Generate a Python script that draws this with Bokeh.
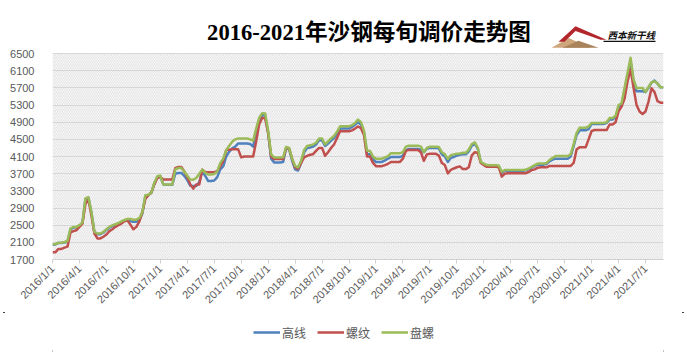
import math
from bokeh.plotting import figure
from bokeh.layouts import column
from bokeh.models import (Range1d, FixedTicker, Legend, LegendItem, BoxAnnotation,
                          PolyAnnotation, Label)
from bokeh.embed import file_html
from bokeh.resources import INLINE

# ---- data: ten-day (旬) periods 2016/1/1 .. 2021/9/1 ----
dates = [f"{y}/{m}/{d}" for y in range(2016, 2022) for m in range(1, 13) for d in (1, 11, 21)][:205]

gaoxian = [  # 高线
    2045, 2050, 2085, 2085, 2095, 2120, 2400, 2440, 2450, 2490,
    2550, 3110, 3140, 2790, 2330, 2290, 2290, 2330, 2390, 2440,
    2480, 2505, 2530, 2570, 2600, 2610, 2590, 2580, 2580, 2620,
    2770, 3180, 3200, 3255, 3470, 3620, 3640, 3450, 3440, 3440,
    3440, 3700, 3717, 3717, 3650, 3550, 3420, 3412, 3412, 3500,
    3756, 3650, 3527, 3527, 3540, 3620, 3800, 3870, 4100, 4213,
    4290, 4330, 4404, 4404, 4404, 4404, 4390, 4330, 4700, 4950,
    5070, 5050, 4650, 4050, 3963, 3963, 3963, 3970, 4290, 4270,
    4000, 3800, 3772, 3950, 4200, 4300, 4310, 4330, 4380, 4480,
    4480, 4345, 4400, 4470, 4530, 4630, 4750, 4750, 4750, 4750,
    4790, 4840, 4900, 4840, 4650, 4160, 4150, 4030, 3973, 3973,
    3973, 4010, 4050, 4087, 4087, 4087, 4087, 4120, 4250, 4277,
    4277, 4277, 4277, 4260, 4200, 4280, 4300, 4300, 4300, 4290,
    4150, 4100, 3973, 4070, 4090, 4120, 4140, 4150, 4150, 4220,
    4350, 4400, 4280, 3960, 3920, 3880, 3880, 3880, 3880, 3870,
    3720, 3770, 3770, 3770, 3770, 3770, 3770, 3770, 3780, 3800,
    3840, 3880, 3910, 3910, 3910, 3930, 3990, 4026, 4050, 4050,
    4050, 4050, 4050, 4100, 4340, 4600, 4709, 4709, 4709, 4740,
    4860, 4860, 4860, 4860, 4860, 4880, 4960, 4960, 5020, 5250,
    5300, 5650, 5980, 6320, 5850, 5620, 5620, 5620, 5604, 5700,
    5820, 5870, 5800, 5711, 5711,
]

luowen = [  # 螺纹
    1870, 1870, 1947, 1947, 1978, 2000, 2330, 2360, 2383, 2460,
    2536, 2995, 3095, 2727, 2306, 2192, 2192, 2230, 2283, 2360,
    2406, 2460, 2498, 2536, 2590, 2612, 2513, 2406, 2460, 2590,
    2804, 3110, 3200, 3260, 3450, 3600, 3620, 3565, 3565, 3565,
    3565, 3830, 3855, 3855, 3750, 3620, 3450, 3351, 3450, 3450,
    3794, 3740, 3733, 3733, 3733, 3760, 3870, 4000, 4250, 4260,
    4267, 4267, 4267, 4080, 4099, 4099, 4099, 4099, 4450, 4850,
    5000, 4990, 4650, 4100, 4040, 4040, 4040, 4040, 4300, 4290,
    4050, 3850, 3810, 3950, 4080, 4116, 4140, 4154, 4230, 4300,
    4300, 4116, 4200, 4300, 4380, 4530, 4689, 4689, 4689, 4689,
    4710, 4750, 4800, 4760, 4600, 4102, 4100, 3950, 3874, 3874,
    3874, 3900, 3930, 3973, 3973, 3973, 3973, 4050, 4230, 4254,
    4254, 4254, 4254, 4200, 4000, 4150, 4163, 4163, 4163, 4120,
    3950, 3900, 3707, 3790, 3821, 3850, 3870, 3806, 3806, 3850,
    4125, 4201, 4180, 3950, 3900, 3860, 3859, 3859, 3859, 3850,
    3631, 3700, 3707, 3707, 3707, 3707, 3707, 3707, 3710, 3740,
    3783, 3800, 3840, 3850, 3850, 3850, 3880, 3880, 3880, 3880,
    3880, 3880, 3880, 3880, 3950, 4270, 4314, 4314, 4314, 4500,
    4694, 4716, 4716, 4716, 4716, 4716, 4845, 4845, 4900, 5150,
    5263, 5450, 5850, 6136, 5700, 5300, 5150, 5090, 5150, 5380,
    5690, 5600, 5390, 5354, 5354,
]

panluo = [  # 盘螺
    2054, 2060, 2092, 2092, 2108, 2130, 2420, 2460, 2460, 2500,
    2560, 3125, 3150, 2800, 2345, 2306, 2306, 2345, 2406, 2460,
    2498, 2520, 2550, 2590, 2620, 2643, 2643, 2628, 2628, 2666,
    2804, 3200, 3207, 3260, 3490, 3640, 3656, 3450, 3450, 3450,
    3450, 3800, 3832, 3832, 3750, 3650, 3565, 3560, 3600, 3700,
    3794, 3720, 3680, 3680, 3690, 3750, 3946, 4050, 4250, 4350,
    4442, 4500, 4518, 4518, 4518, 4518, 4500, 4470, 4750, 5000,
    5110, 5100, 4700, 4150, 4078, 4078, 4078, 4080, 4322, 4300,
    4050, 3880, 3848, 4000, 4250, 4345, 4360, 4380, 4421, 4520,
    4520, 4383, 4450, 4520, 4580, 4680, 4803, 4803, 4803, 4803,
    4830, 4880, 4960, 4900, 4700, 4239, 4230, 4100, 4049, 4049,
    4049, 4080, 4110, 4178, 4178, 4178, 4178, 4200, 4330, 4353,
    4353, 4353, 4353, 4330, 4200, 4300, 4330, 4330, 4330, 4320,
    4200, 4150, 4049, 4130, 4150, 4163, 4170, 4186, 4186, 4262,
    4391, 4430, 4300, 3973, 3935, 3900, 3897, 3897, 3897, 3890,
    3745, 3783, 3783, 3783, 3783, 3783, 3783, 3783, 3790, 3820,
    3860, 3900, 3935, 3935, 3935, 3950, 4020, 4071, 4109, 4109,
    4109, 4109, 4109, 4150, 4390, 4650, 4770, 4770, 4770, 4800,
    4883, 4883, 4883, 4883, 4883, 4900, 4997, 4997, 5050, 5300,
    5339, 5700, 6050, 6400, 5900, 5695, 5695, 5695, 5604, 5720,
    5830, 5855, 5800, 5711, 5711,
]

series_names = ["高线", "螺纹", "盘螺"]
series_colors = ["#4F81BD", "#C0504D", "#9BBB59"]
y_min, y_max = 1700, 6500
y_ticks = list(range(y_min, y_max + 1, 400))
x_tick_step = 9
title_text = "2016-2021年沙钢每旬调价走势图"
logo_text = "西本新干线"

x = list(range(len(dates)))

# ---- layout (pixels) ----
W = 687
H_main, H_leg = 312, 43
plot_left, plot_right = 52, 663      # value-area edges
plot_top, plot_bottom = 54, 265      # 6500 and 1700 lines
frame_top = 12                       # frame extends up to hold title/logo
px_per_unit = (plot_bottom - plot_top) / (y_max - y_min)
y_top = y_max + (plot_top - frame_top) / px_per_unit


def X(px):  # page pixel -> x data
    return (px - plot_left) * (len(dates) - 1) / (plot_right - plot_left)


def Y(py):  # page pixel -> y data
    return y_min + (plot_bottom - py) / px_per_unit


p1 = figure(width=W, height=H_main, output_backend="svg", toolbar_location=None,
            x_range=Range1d(0, len(dates) - 1), y_range=Range1d(y_min, y_top),
            min_border_left=plot_left, min_border_right=W - plot_right,
            min_border_top=frame_top, min_border_bottom=H_main - plot_bottom)
p1.outline_line_color = None
p1.background_fill_color = "white"
p1.border_fill_color = "white"

# hatched plot area (value area only)
p1.add_layout(BoxAnnotation(bottom=y_min, top=y_max, level="underlay",
                            fill_alpha=0, line_alpha=0,
                            hatch_pattern="\\", hatch_color="#d2d2d2",
                            hatch_scale=3.5, hatch_weight=0.7))

# axes
tick_font = "'Liberation Sans'"
p1.xaxis.ticker = FixedTicker(ticks=list(range(0, len(dates), x_tick_step)))
p1.xaxis.major_label_overrides = {i: dates[i] for i in range(0, len(dates), x_tick_step)}
p1.xaxis.major_label_orientation = math.pi / 4
p1.xaxis.axis_line_color = "#d0d0d0"
p1.xaxis.major_tick_line_color = "#d0d0d0"
p1.xaxis.major_tick_in = 0
p1.xaxis.major_tick_out = 4
p1.xaxis.minor_tick_line_color = None
p1.xaxis.major_label_text_font = tick_font
p1.xaxis.major_label_text_font_size = "11px"
p1.xaxis.major_label_text_color = "#595959"
p1.xaxis.major_label_standoff = 3

p1.yaxis.ticker = FixedTicker(ticks=y_ticks)
p1.yaxis.axis_line_color = None
p1.yaxis.major_tick_line_color = None
p1.yaxis.minor_tick_line_color = None
p1.yaxis.major_label_text_font = tick_font
p1.yaxis.major_label_text_font_size = "11px"
p1.yaxis.major_label_text_color = "#595959"
p1.yaxis.major_label_standoff = 12

p1.xgrid.visible = False
p1.ygrid.grid_line_color = "#d9d9d9"
p1.ygrid.grid_line_width = 1

for vals, col in zip([gaoxian, luowen, panluo], series_colors):
    p1.line(x, vals, line_color=col, line_width=2.5, line_join="round")

# title
p1.add_layout(Label(x=X(368.5), y=Y(32.5), text=title_text,
                    text_font="'Liberation Serif', 'Noto Sans CJK SC'",
                    text_font_size="22.6px", text_font_style="bold",
                    text_color="#000000", text_align="center", text_baseline="middle"))

# logo
gold1 = [(551, 48), (568, 38), (590, 48)]
gold2 = [(562, 48), (578, 41), (598, 48)]
red = [(558, 42), (575, 26), (606, 40), (600, 40), (575, 31), (564, 42)]
for pts, col in [(gold1, "#cfa77c"), (gold2, "#a9835b"), (red, "#b3262c")]:
    p1.add_layout(PolyAnnotation(xs=[X(a) for a, _ in pts], ys=[Y(b) for _, b in pts],
                                 fill_color=col, fill_alpha=1, line_color=None))
p1.add_layout(Label(x=X(607), y=Y(35), text=logo_text, text_font="'Noto Sans CJK SC'",
                    text_font_size="9.5px", text_font_style="bold italic",
                    text_color="#111111", text_baseline="middle"))
p1.add_layout(BoxAnnotation(left=X(603), right=X(655), top=Y(41), bottom=Y(42.3),
                            fill_color="#111111", fill_alpha=1, line_color=None))

# legend strip
p2 = figure(width=W, height=H_leg, output_backend="svg", toolbar_location=None,
            x_range=Range1d(0, 1), y_range=Range1d(0, 1),
            x_axis_type=None, y_axis_type=None,
            min_border_left=0, min_border_right=0, min_border_top=0, min_border_bottom=0)
p2.outline_line_color = None
p2.xgrid.visible = False
p2.ygrid.visible = False
p2.background_fill_color = "white"
p2.border_fill_color = "white"
# legend-only renderers, kept outside the visible range of this strip
leg_renderers = [p2.line([-3, -2], [-3, -3], line_color=col, line_width=2.5)
                 for col in series_colors]
legend = Legend(items=[LegendItem(label=n, renderers=[r]) for n, r in zip(series_names, leg_renderers)],
                orientation="horizontal", location=(201, 13),
                label_text_font="'Noto Sans CJK SC'", label_text_font_size="12px",
                label_text_color="#595959", glyph_width=27, glyph_height=20,
                label_standoff=2, spacing=11, padding=0, margin=0,
                border_line_color=None, background_fill_alpha=0)
p2.add_layout(legend)

p = column(p1, p2, spacing=0)
p.styles = {"outline": "2px solid #000000", "outline-offset": "-5px"}

open("out.html", "w").write(file_html(p, INLINE))
